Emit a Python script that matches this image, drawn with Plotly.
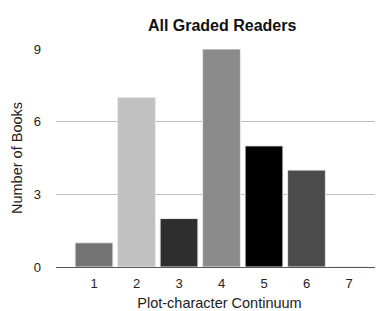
import plotly.graph_objects as go

categories = [1, 2, 3, 4, 5, 6, 7]
values = [1, 7, 2, 9, 5, 4, 0]
bar_colors = ["#737373", "#c1c1c1", "#2e2e2e", "#8a8a8a", "#000000", "#4b4b4b", "#ffffff"]
y_ticks = [0, 3, 6, 9]

fig = go.Figure(go.Bar(
    x=categories, y=values, width=0.89,
    marker=dict(color=bar_colors, line=dict(color="#e8e8e8", width=1)),
))

# page has an 8px body margin, so the figure is sized to fill the remaining window
fig.update_layout(
    width=375, height=303,
    margin=dict(l=48, r=0, t=41, b=44, autoexpand=False),
    paper_bgcolor="white", plot_bgcolor="white",
    font=dict(family="Liberation Sans, Arial, sans-serif", size=13, color="#222"),
    title=dict(text="<b>All Graded Readers</b>", x=0.571, xanchor="center",
               yref="container", y=1 - 17/303, yanchor="middle",
               font=dict(size=16, color="#111")),
    showlegend=False,
)
fig.update_xaxes(
    range=[0.106, 7.8], tickvals=categories, ticktext=[str(c) for c in categories],
    showgrid=False, zeroline=False, showline=False, ticks="", automargin=False,
    ticklabelstandoff=7,
    title=dict(text="Plot-character Continuum", standoff=8, font=dict(size=14.5)),
)
fig.update_yaxes(
    range=[0, 9], tickvals=y_ticks, showgrid=True, gridcolor="#bdbdbd", gridwidth=1,
    zeroline=True, zerolinecolor="#555", zerolinewidth=1, showline=False, ticks="",
    ticklabelstandoff=14, automargin=False,
    title=dict(text="Number of Books", standoff=7, font=dict(size=14.5)),
)

fig.write_html("out.html")
